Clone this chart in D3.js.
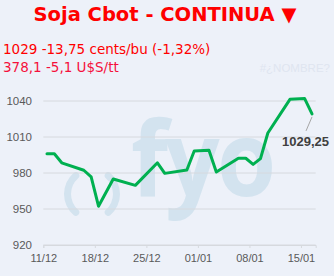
<!DOCTYPE html>
<html>
<head>
<meta charset="utf-8">
<script src="https://cdn.jsdelivr.net/npm/d3@7"></script>
<style>
  html, body { margin: 0; padding: 0; background: #edf1f9; }
  svg { display: block; }
</style>
</head>
<body>
<div id="chart"></div>
<script>
// series: soja cbot continua, closing prices per trading day
var dates = ["2024-12-11", "2024-12-12", "2024-12-13", "2024-12-16", "2024-12-17",
  "2024-12-18", "2024-12-20", "2024-12-23", "2024-12-26", "2024-12-27",
  "2024-12-30", "2024-12-31", "2025-01-02", "2025-01-03", "2025-01-06",
  "2025-01-07", "2025-01-08", "2025-01-09", "2025-01-10", "2025-01-13",
  "2025-01-15", "2025-01-16"];
var prices = [996, 996, 988.5, 982.3, 976.7, 952.3, 975, 969.7, 988.5, 979.7,
  982.5, 998.3, 999, 980.8, 992.3, 992.3, 987.2, 992, 1013.3, 1041.4,
  1042, 1029.25];

// axis ticks
var xTicks = ["2024-12-11", "2024-12-18", "2024-12-25", "2025-01-01", "2025-01-08", "2025-01-15"];
var yTicks = [920, 950, 980, 1010, 1040];
var xDomain = ["2024-12-11", "2025-01-17"];
var yDomain = [920, 1040];

// header texts
var title = "Soja Cbot - CONTINUA \u25BC";
var line1 = "1029 -13,75 cents/bu (-1,32%)";
var line2 = "378,1 -5,1 U$S/tt";
var errText = "#\u00BFNOMBRE?";
var lastLabel = "1029,25";

var W = 334, H = 276;
var parse = d3.utcParse("%Y-%m-%d");
var fmt = d3.utcFormat("%d/%m");
var halfDay = 12 * 3600 * 1000;

var svg = d3.select("#chart").append("svg")
  .attr("width", W)
  .attr("height", H);

svg.append("rect")
  .attr("width", W)
  .attr("height", H)
  .attr("fill", "#edf1f9");

var x = d3.scaleUtc()
  .domain(xDomain.map(parse))
  .range([43.3, 315.7]);

var y = d3.scaleLinear()
  .domain(yDomain)
  .range([245, 101]);

// watermark logo, sits behind the grid
var wm = svg.append("g").attr("fill", "#d3e3ef");
var arc = d3.arc().innerRadius(21).outerRadius(28).cornerRadius(3.5);
wm.append("path")
  .attr("transform", "translate(92,194)")
  .attr("d", arc({startAngle: -147 * Math.PI / 180, endAngle: -33 * Math.PI / 180}));
wm.append("path")
  .attr("transform", "translate(92,194)")
  .attr("d", arc({startAngle: 33 * Math.PI / 180, endAngle: 147 * Math.PI / 180}));
wm.append("text")
  .attr("transform", "translate(131,196) scale(0.92,1)")
  .attr("font-family", "Open Sans, sans-serif")
  .attr("font-weight", "bold")
  .attr("font-size", 104)
  .attr("letter-spacing", -3)
  .text("fyo");

// gridlines
svg.append("g")
  .selectAll("line")
  .data(yTicks)
  .enter().append("line")
  .attr("x1", x.range()[0])
  .attr("x2", x.range()[1])
  .attr("y1", function(d) { return y(d); })
  .attr("y2", function(d) { return y(d); })
  .attr("stroke", "#d6d9de")
  .attr("stroke-width", 1);

// x axis
var xAxis = svg.append("g")
  .attr("transform", "translate(0," + y(yDomain[0]) + ")")
  .call(d3.axisBottom(x)
    .tickValues(xTicks.map(parse))
    .tickFormat(fmt)
    .tickSize(3)
    .tickPadding(6));
xAxis.select(".domain").attr("stroke", "#d6d9de");
xAxis.selectAll(".tick line").attr("stroke", "#d6d9de");
xAxis.selectAll("text")
  .attr("fill", "#595959")
  .attr("font-family", "Liberation Sans, Arial, sans-serif")
  .attr("font-size", 11);

// y labels
var yAxis = svg.append("g")
  .attr("transform", "translate(40,0)")
  .call(d3.axisLeft(y).tickValues(yTicks).tickFormat(d3.format("d")).tickSize(0).tickPadding(8));
yAxis.select(".domain").remove();
yAxis.selectAll("text")
  .attr("fill", "#595959")
  .attr("font-family", "Liberation Sans, Arial, sans-serif")
  .attr("font-size", 11.5);

// price line
var pts = dates.map(function(d, i) {
  return {date: new Date(parse(d).getTime() + halfDay), value: prices[i]};
});
var line = d3.line()
  .x(function(d) { return x(d.date); })
  .y(function(d) { return y(d.value); });

svg.append("path")
  .datum(pts)
  .attr("d", line)
  .attr("fill", "none")
  .attr("stroke", "#00b050")
  .attr("stroke-width", 3)
  .attr("stroke-linejoin", "round")
  .attr("stroke-linecap", "round");

// label for last value with leader line
var last = pts[pts.length - 1];
var lx = x(last.date), ly = y(last.value);
svg.append("line")
  .attr("x1", lx)
  .attr("y1", ly + 3)
  .attr("x2", lx - 6)
  .attr("y2", ly + 17)
  .attr("stroke", "#a6a6a6")
  .attr("stroke-width", 1);
svg.append("text")
  .attr("x", lx - 6.5)
  .attr("y", ly + 32)
  .attr("text-anchor", "middle")
  .attr("fill", "#404040")
  .attr("font-family", "Liberation Sans, Arial, sans-serif")
  .attr("font-weight", "bold")
  .attr("font-size", 13)
  .text(lastLabel);

// header
svg.append("text")
  .attr("x", 165)
  .attr("y", 21)
  .attr("text-anchor", "middle")
  .attr("fill", "#ff0000")
  .attr("font-family", "DejaVu Sans, sans-serif")
  .attr("font-weight", "bold")
  .attr("font-size", 19.5)
  .text(title);

svg.append("text")
  .attr("x", 3)
  .attr("y", 54)
  .attr("fill", "#ff0000")
  .attr("font-family", "DejaVu Sans, sans-serif")
  .attr("font-size", 13.5)
  .text(line1);

svg.append("text")
  .attr("x", 3)
  .attr("y", 72)
  .attr("fill", "#f5103c")
  .attr("font-family", "DejaVu Sans, sans-serif")
  .attr("font-size", 13.5)
  .text(line2);

svg.append("text")
  .attr("x", 330)
  .attr("y", 72)
  .attr("text-anchor", "end")
  .attr("fill", "#dfe5f0")
  .attr("font-family", "Liberation Sans, Arial, sans-serif")
  .attr("font-size", 11.5)
  .text(errText);
</script>
</body>
</html>
